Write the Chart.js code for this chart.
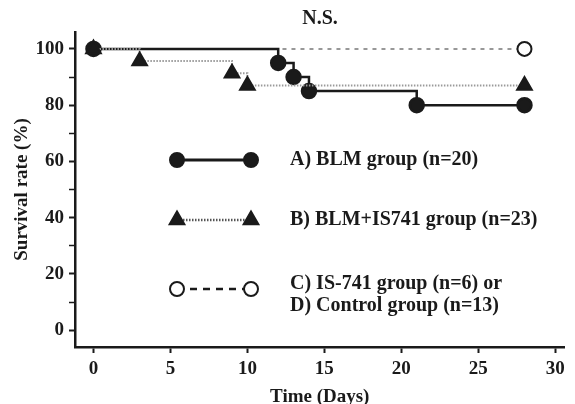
<!DOCTYPE html>
<html lang="en">
<head>
    <meta charset="UTF-8">
    <title>Survival rate</title>
    <script src="https://cdn.jsdelivr.net/npm/chart.js"></script>
    <style>
        html, body {
            margin: 0;
            padding: 0;
            background: #fff;
        }
        #wrap {
            width: 575px;
            height: 404px;
        }
    </style>
</head>
<body>
    <div id="wrap"><canvas id="survivalChart" width="575" height="404"></canvas></div>

    <script>
        // Kaplan-Meier steps
        const blmDays = [0, 12, 13, 14, 21, 28];
        const blmSurvival = [100, 95, 90, 85, 80, 80];

        const comboDays = [0, 3, 9, 10, 28];
        const comboSurvival = [100, 95.7, 91.3, 87, 87];

        const controlDays = [0, 28];
        const controlSurvival = [100, 100];

        const xTickValues = [0, 5, 10, 15, 20, 25, 30];
        const yTickValues = [0, 10, 20, 30, 40, 50, 60, 70, 80, 90, 100];

        const legendLines = [
            ['A) BLM group (n=20)'],
            ['B) BLM+IS741 group (n=23)'],
            ['C) IS-741 group (n=6) or', 'D) Control group (n=13)']
        ];

        const INK = '#1a1a1a';
        const SERIF = '"Liberation Serif", "DejaVu Serif", serif';

        function toPoints(xs, ys) {
            return xs.map((x, i) => ({ x: x, y: ys[i] }));
        }

        function drawMarker(ctx, style, x, y) {
            ctx.save();
            ctx.lineWidth = 2;
            ctx.strokeStyle = INK;
            ctx.beginPath();
            if (style === 'triangle') {
                const r = 8.5;
                ctx.moveTo(x, y - r);
                ctx.lineTo(x + r * 0.866, y + r * 0.5);
                ctx.lineTo(x - r * 0.866, y + r * 0.5);
                ctx.closePath();
                ctx.fillStyle = INK;
            } else {
                ctx.arc(x, y, 7, 0, Math.PI * 2);
                ctx.fillStyle = style === 'open' ? '#fff' : INK;
            }
            ctx.fill();
            ctx.stroke();
            ctx.restore();
        }

        const extras = {
            id: 'extras',
            beforeDraw(chart) {
                const ctx = chart.ctx;
                ctx.save();
                ctx.fillStyle = '#fff';
                ctx.fillRect(0, 0, chart.width, chart.height);
                ctx.restore();
            },
            afterDraw(chart) {
                const ctx = chart.ctx;
                ctx.save();
                ctx.fillStyle = INK;
                ctx.textBaseline = 'middle';

                // title
                ctx.font = 'bold 20px ' + SERIF;
                ctx.textAlign = 'center';
                ctx.fillText('N.S.', 320, 19);

                // legend samples
                const x1 = 177, x2 = 251;
                const rows = [
                    { y: 160, dash: [], color: INK, width: 3, marker: 'filled' },
                    { y: 220, dash: [1.5, 1.5], color: '#555', width: 2.5, marker: 'triangle' },
                    { y: 289, dash: [7, 6], color: INK, width: 2.5, marker: 'open' }
                ];
                rows.forEach(r => {
                    ctx.save();
                    ctx.beginPath();
                    ctx.setLineDash(r.dash);
                    ctx.strokeStyle = r.color;
                    ctx.lineWidth = r.width;
                    ctx.moveTo(x1, r.y);
                    ctx.lineTo(x2, r.y);
                    ctx.stroke();
                    ctx.restore();
                    drawMarker(ctx, r.marker, x1, r.y);
                    drawMarker(ctx, r.marker, x2, r.y);
                });

                ctx.font = 'bold 20px ' + SERIF;
                ctx.textAlign = 'left';
                ctx.fillText(legendLines[0][0], 290, 160);
                ctx.fillText(legendLines[1][0], 290, 220);
                ctx.fillText(legendLines[2][0], 290, 284);
                ctx.fillText(legendLines[2][1], 290, 306);
                ctx.restore();
            }
        };

        const tickFont = { family: SERIF, size: 19, weight: 'bold' };

        new Chart(document.getElementById('survivalChart'), {
            type: 'line',
            data: {
                datasets: [
                    {
                        label: 'B) BLM+IS741 group (n=23)',
                        data: toPoints(comboDays, comboSurvival),
                        stepped: true,
                        borderColor: '#9a9a9a',
                        borderWidth: 2,
                        borderDash: [1.5, 1.5],
                        pointStyle: 'triangle',
                        pointRadius: 8.5,
                        pointBackgroundColor: INK,
                        pointBorderColor: INK,
                        order: 0,
                        clip: false
                    },
                    {
                        label: 'A) BLM group (n=20)',
                        data: toPoints(blmDays, blmSurvival),
                        stepped: true,
                        borderColor: INK,
                        borderWidth: 2.5,
                        pointStyle: 'circle',
                        pointRadius: 7,
                        pointBackgroundColor: INK,
                        pointBorderColor: INK,
                        order: 1,
                        clip: false
                    },
                    {
                        label: 'C) IS-741 group (n=6) or D) Control group (n=13)',
                        data: toPoints(controlDays, controlSurvival),
                        borderColor: '#777',
                        borderWidth: 1.5,
                        borderDash: [4, 5],
                        pointStyle: 'circle',
                        pointRadius: [0, 7],
                        pointBorderWidth: 2,
                        pointBackgroundColor: '#fff',
                        pointBorderColor: INK,
                        order: 2,
                        clip: false
                    }
                ]
            },
            options: {
                responsive: false,
                animation: false,
                events: [],
                layout: {
                    padding: { top: 32, right: 2, left: 0, bottom: 0 }
                },
                plugins: {
                    legend: { display: false },
                    tooltip: { enabled: false }
                },
                scales: {
                    x: {
                        type: 'linear',
                        min: -1.2,
                        max: 30.6,
                        afterBuildTicks: scale => {
                            scale.ticks = xTickValues.map(v => ({ value: v }));
                        },
                        afterFit: scale => {
                            scale.height = 57;
                        },
                        ticks: {
                            font: tickFont,
                            color: INK,
                            padding: 5,
                            maxRotation: 0
                        },
                        grid: {
                            drawOnChartArea: false,
                            tickLength: 6,
                            tickWidth: 2,
                            tickColor: INK
                        },
                        border: { color: INK, width: 2.5 },
                        title: {
                            display: true,
                            text: 'Time (Days)',
                            color: INK,
                            font: { family: SERIF, size: 19, weight: 'bold', lineHeight: 1 },
                            padding: { top: 0, bottom: -3 }
                        }
                    },
                    y: {
                        min: -6,
                        max: 106,
                        afterBuildTicks: scale => {
                            scale.ticks = yTickValues.map(v => ({ value: v }));
                        },
                        afterFit: scale => {
                            scale.width = 75;
                        },
                        ticks: {
                            font: tickFont,
                            color: INK,
                            padding: 5,
                            callback: v => (v % 20 === 0 ? v : '')
                        },
                        grid: {
                            drawOnChartArea: false,
                            tickLength: 6,
                            tickWidth: c => (c.tick && c.tick.value % 20 === 0 ? 2 : 1.5),
                            tickColor: INK
                        },
                        border: { color: INK, width: 2.5 },
                        title: {
                            display: true,
                            text: 'Survival rate (%)',
                            color: INK,
                            font: { family: SERIF, size: 19, weight: 'bold', lineHeight: 1 },
                            padding: { top: 13, bottom: 0 }
                        }
                    }
                }
            },
            plugins: [extras]
        });
    </script>
</body>
</html>
